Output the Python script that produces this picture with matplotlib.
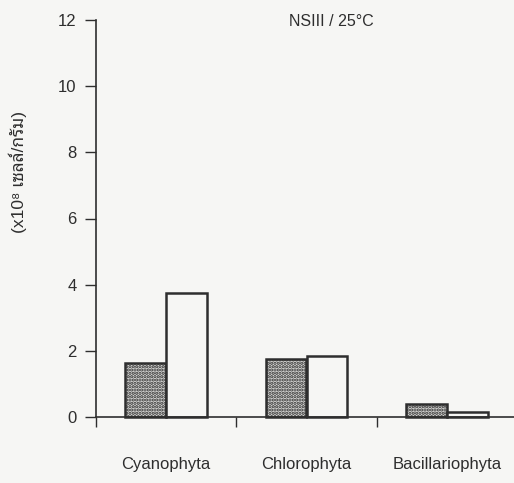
import matplotlib
matplotlib.use("Agg")
import matplotlib.pyplot as plt
import numpy as np

plt.rcParams['font.family'] = ['Liberation Sans', 'DejaVu Sans', 'Noto Sans Thai Looped']
plt.rcParams['hatch.linewidth'] = 1.6

categories = ['Cyanophyta', 'Chlorophyta', 'Bacillariophyta']
series_a = [1.64, 1.76, 0.39]   # dotted bars
series_b = [3.76, 1.85, 0.15]   # open bars
yticks = [0, 2, 4, 6, 8, 10, 12]

ink = '#2e2e2e'
paper = '#f6f6f4'

fig = plt.figure(figsize=(5.14, 4.83), dpi=100, facecolor=paper)
ax = fig.add_axes([96 / 514, 66 / 483, 421 / 514, 397 / 483])
ax.set_facecolor(paper)

x = np.arange(len(categories))
w = 0.29
ax.bar(x - w / 2, series_a, w, facecolor='#d8d8d6', edgecolor=ink,
       hatch='.....', linewidth=1.8, clip_on=False)
ax.bar(x + w / 2, series_b, w, facecolor=paper, edgecolor=ink,
       linewidth=1.8, clip_on=False)

ax.set_xlim(-0.5, 2.5)
ax.set_ylim(0, 12)
ax.set_yticks(yticks)
ax.set_xticks([-0.5, 0.5, 1.5])
ax.set_xticklabels([])
ax.set_xticks(x, minor=True)
ax.set_xticklabels(categories, minor=True)
ax.tick_params(axis='x', which='minor', length=0, pad=29, labelsize=12, colors=ink)
ax.tick_params(axis='x', which='major', length=7, width=1, color=ink, direction='out')
ax.tick_params(axis='y', length=8, width=1, color=ink, labelsize=12,
               labelcolor=ink, pad=6)

for s in ['top', 'right']:
    ax.spines[s].set_visible(False)
for s in ['left', 'bottom']:
    ax.spines[s].set_color(ink)
    ax.spines[s].set_linewidth(1.2)

ax.set_ylabel('(x10⁸ เซลล์/กรัม)', fontsize=12.5, color=ink)
ax.yaxis.set_label_coords(-0.163, 0.617)
ax.text(0.56, 0.995, 'NSIII / 25°C', transform=ax.transAxes,
        ha='center', va='center', fontsize=11.5, color=ink)

fig.savefig('out.png', dpi=100, facecolor=paper)
